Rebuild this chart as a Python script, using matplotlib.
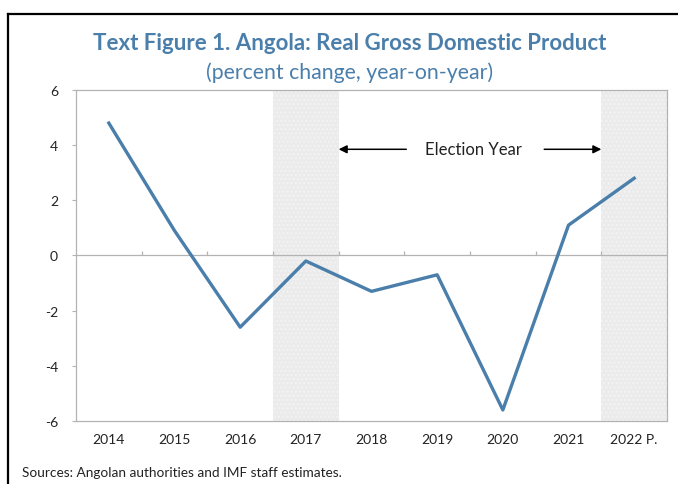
import numpy as np
import matplotlib.pyplot as plt
from matplotlib.lines import Line2D

# Angola real GDP growth, percent change year-on-year
years = ["2014", "2015", "2016", "2017", "2018", "2019", "2020", "2021", "2022 P."]
growth = [4.8, 0.9, -2.6, -0.2, -1.3, -0.7, -5.6, 1.1, 2.8]
election_years = [3, 8]  # index of 2017 and 2022

azul = "#4a7eab"
plt.rcParams['font.family'] = ['Lato', 'DejaVu Sans']

fig = plt.figure(figsize=(6.78, 4.85), dpi=100)
ax = fig.add_axes([0.1121, 0.1299, 0.8717, 0.6825])

x = np.arange(len(years))

for i in election_years:
    ax.axvspan(i - 0.5, i + 0.5, facecolor="#ebebeb", edgecolor="#f3f3f3",
               hatch="....", linewidth=0, zorder=0)

ax.axhline(0, color="#b3b3b3", linewidth=0.9, zorder=1)
ax.vlines(np.arange(len(years) - 1) + 0.5, 0, 0.15, color="#b3b3b3", linewidth=0.9, zorder=1)

ax.plot(x, growth, color=azul, linewidth=2.4, zorder=3)

# election year arrows
ax.annotate("", xy=(3.5, 3.85), xytext=(4.53, 3.85),
            arrowprops=dict(arrowstyle="-|>", color="black", lw=1.1, mutation_scale=12,
                            shrinkA=0, shrinkB=0))
ax.annotate("", xy=(7.5, 3.85), xytext=(6.63, 3.85),
            arrowprops=dict(arrowstyle="-|>", color="black", lw=1.1, mutation_scale=12,
                            shrinkA=0, shrinkB=0))
ax.text(5.55, 3.85, "Election Year", ha="center", va="center", fontsize=12, color="#222222")

ax.set_xlim(-0.5, len(years) - 0.5)
ax.set_ylim(-6, 6)
ax.set_yticks([-6, -4, -2, 0, 2, 4, 6])
ax.set_yticklabels(["-6", "-4", "-2", "0", "2", "4", "6"])
ax.set_xticks(x)
ax.set_xticklabels(years)
ax.tick_params(axis="x", length=0, pad=9, labelsize=10, labelcolor="#222222")
ax.tick_params(axis="y", length=3, width=0.8, color="#b3b3b3", pad=10, labelsize=10,
               labelcolor="#222222")
for s in ax.spines.values():
    s.set_color("#b3b3b3")
    s.set_linewidth(0.9)

fig.text(0.516, 0.911, "Text Figure 1. Angola: Real Gross Domestic Product",
         ha="center", va="center", fontsize=16, fontweight="bold", color=azul)
fig.text(0.516, 0.851, "(percent change, year-on-year)",
         ha="center", va="center", fontsize=15.3, color=azul)
fig.text(0.032, 0.025, "Sources: Angolan authorities and IMF staff estimates.",
         ha="left", va="center", fontsize=9.8, color="#222222")

# frame lines on top and left
fig.add_artist(Line2D([8 / 678, 1], [1 - 15 / 485, 1 - 15 / 485], color="black", linewidth=1.6,
                      transform=fig.transFigure))
fig.add_artist(Line2D([8 / 678, 8 / 678], [0, 1 - 15 / 485], color="black", linewidth=1.6,
                      transform=fig.transFigure))

fig.savefig("out.png", dpi=100)
